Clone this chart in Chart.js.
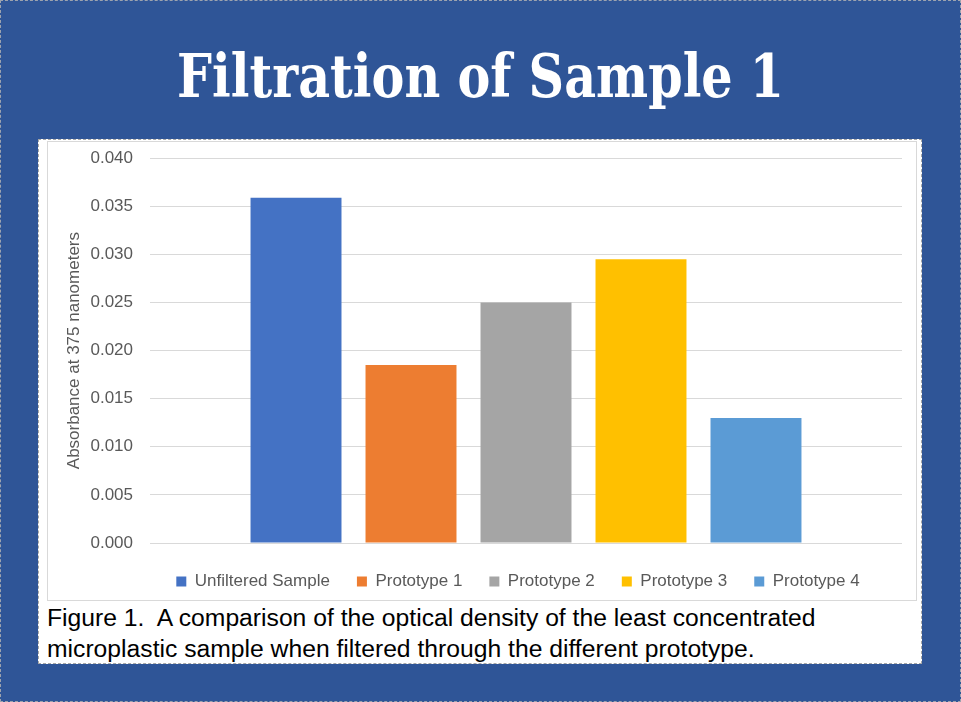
<!DOCTYPE html>
<html>
<head>
<meta charset="utf-8">
<script src="https://cdn.jsdelivr.net/npm/chart.js@4"></script>
<style>
  body { margin: 0; background: #2F5597; }
  #page { position: relative; width: 961px; height: 702px; background: #2F5597; overflow: hidden; }
  #outer { position: absolute; left: 0; top: 0; width: 959px; height: 700px; border: 1px dashed #9DA3AE; }
  #title {
    position: absolute; left: 0; top: 46px; width: 961px; text-align: center;
    font-family: "DejaVu Serif Condensed", "DejaVu Serif", serif; font-weight: bold;
    font-size: 60px; line-height: 1; color: #fff; white-space: nowrap;
  }
  #title span { display: inline-block; transform-origin: center; }
  #panel { position: absolute; left: 38px; top: 139px; width: 882px; height: 523px; background: #fff; border: 1px dashed #A6A6A6; }
  #chartBox { position: absolute; left: 47px; top: 141px; width: 868px; height: 458px; border: 1px solid #D9D9D9; }
  #grafico { position: absolute; left: 47px; top: 131px; }
  #caption {
    position: absolute; left: 47px; top: 602px; width: 874px;
    font-family: "Liberation Sans", Arial, sans-serif; font-size: 24.7px; line-height: 31px;
    color: #000; white-space: pre;
  }
</style>
</head>
<body>
<div id="page">
  <div id="outer"></div>
  <div id="title"><span id="titleText">Filtration of Sample 1</span></div>
  <div id="panel"></div>
  <div id="chartBox"></div>
  <canvas id="grafico" width="870" height="469"></canvas>
  <div id="caption">Figure 1.  A comparison of the optical density of the least concentrated
microplastic sample when filtered through the different prototype.</div>
</div>
<script>
// datos del grafico
const categorias = [''];
const nombresSeries = ['Unfiltered Sample', 'Prototype 1', 'Prototype 2', 'Prototype 3', 'Prototype 4'];
const absorbancia = [0.0359, 0.0185, 0.0250, 0.0295, 0.0130];
const coloresSeries = ['#4472C4', '#ED7D31', '#A5A5A5', '#FFC000', '#5B9BD5'];
const ejeYMin = 0;
const ejeYMax = 0.04;
const ejeYPaso = 0.005;

// ajustar ancho del titulo
const titulo = document.querySelector('#titleText');
const anchoTitulo = titulo.getBoundingClientRect().width;
titulo.style.transform = 'scaleX(' + (607 / anchoTitulo) + ')';

const fuente = { family: '"Liberation Sans", Arial, sans-serif', size: 17 };
const grisTexto = '#595959';

// la leyenda de Excel queda centrada sobre el area del grafico, no sobre el lienzo
const moverLeyenda = {
  id: 'moverLeyenda',
  afterLayout(chart) {
    const leyenda = chart.legend;
    if (!leyenda) return;
    leyenda.left += 35;
    leyenda.right += 35;
  }
};

const ctx = document.getElementById('grafico').getContext('2d');
new Chart(ctx, {
  type: 'bar',
  data: {
    labels: categorias,
    datasets: nombresSeries.map((nombre, i) => ({
      label: nombre,
      data: [absorbancia[i]],
      backgroundColor: coloresSeries[i],
      borderWidth: 0,
      categoryPercentage: 0.7646,
      barPercentage: 0.791
    }))
  },
  options: {
    responsive: false,
    animation: false,
    layout: { padding: { left: 17, top: 0, right: 15, bottom: 0 } },
    plugins: {
      tooltip: { enabled: false },
      legend: {
        position: 'bottom',
        labels: { boxWidth: 10, boxHeight: 10, padding: 27, color: grisTexto, font: fuente }
      }
    },
    scales: {
      x: {
        grid: { display: false },
        border: { display: false },
        ticks: { display: false },
        afterFit: (eje) => { eje.height = 3; }
      },
      y: {
        min: ejeYMin,
        max: ejeYMax,
        ticks: {
          stepSize: ejeYPaso,
          padding: 17,
          color: grisTexto,
          font: fuente,
          callback: (v) => v.toFixed(3)
        },
        grid: { color: '#D9D9D9', drawTicks: false },
        border: { display: false },
        title: {
          display: true,
          text: 'Absorbance at 375 nanometers',
          color: grisTexto,
          font: fuente,
          padding: 0
        },
        afterFit: (eje) => { eje.width = 86; }
      }
    }
  },
  plugins: [moverLeyenda]
});
</script>
</body>
</html>
